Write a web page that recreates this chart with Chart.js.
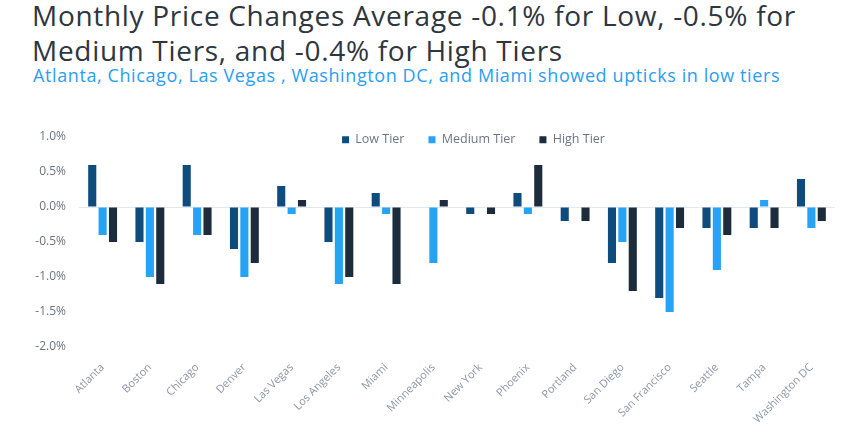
<!DOCTYPE html>
<html>
<head>
<meta charset="utf-8">
<script src="https://cdn.jsdelivr.net/npm/chart.js@4.4.0/dist/chart.umd.min.js"></script>
<style>
  body { margin: 0; background: #fff; font-family: 'Open Sans', sans-serif; }
  #page { position: relative; width: 847px; height: 437px; overflow: hidden; }
  #title { position: absolute; left: 32px; top: -2px; margin: 0; font-weight: 400;
           font-size: 28px; line-height: 35px; letter-spacing: 0.7px; color: #2e3640; white-space: nowrap; }
  #subtitle { position: absolute; left: 33px; top: 65px; margin: 0; font-weight: 400;
              font-size: 18px; line-height: 20px; letter-spacing: 0.6px; color: #2a9ef2; white-space: nowrap; }
  #box { position: absolute; left: 0; top: 95px; width: 847px; height: 342px; }
</style>
</head>
<body>
<div id="page">
  <h1 id="title">Monthly Price Changes Average -0.1% for Low, -0.5% for<br>Medium Tiers, and -0.4% for High Tiers</h1>
  <h2 id="subtitle">Atlanta, Chicago, Las Vegas , Washington DC, and Miami showed upticks in low tiers</h2>
  <div id="box"><canvas id="barChart"></canvas></div>
</div>
<script>
const cities = ['Atlanta', 'Boston', 'Chicago', 'Denver', 'Las Vegas', 'Los Angeles', 'Miami', 'Minneapolis',
                'New York', 'Phoenix', 'Portland', 'San Diego', 'San Francisco', 'Seattle', 'Tampa', 'Washington DC'];
const lowTier    = [0.6, -0.5, 0.6, -0.6, 0.3, -0.5, 0.2, 0.0, -0.1, 0.2, -0.2, -0.8, -1.3, -0.3, -0.3, 0.4];
const mediumTier = [-0.4, -1.0, -0.4, -1.0, -0.1, -1.1, -0.1, -0.8, 0.0, -0.1, 0.0, -0.5, -1.5, -0.9, 0.1, -0.3];
const highTier   = [-0.5, -1.1, -0.4, -0.8, 0.1, -1.0, -1.1, 0.1, -0.1, 0.6, -0.2, -1.2, -0.3, -0.4, -0.3, -0.2];
const yMin = -2.0, yMax = 1.0, yStep = 0.5;

// legend sits inside the plot, level with the top tick
const legendInside = {
    id: 'legendInside',
    beforeInit(chart) {
        const fit = chart.legend.fit;
        chart.legend.fit = function () {
            fit.call(this);
            this.realHeight = this.height;
            this.height = 0;
        };
    },
    afterLayout(chart) {
        const lg = chart.legend;
        const pad = lg.options.labels.padding;
        const top = chart.chartArea.top + 3 - pad - 6.5;
        const dx = 473.5 - (lg.left + lg.right) / 2;
        lg.top = top;
        lg.bottom = top + lg.realHeight + 10;
        lg.left += dx;
        lg.right += dx;
    }
};

const ctx = document.getElementById('barChart').getContext('2d');
const barChart = new Chart(ctx, {
    type: 'bar',
    data: {
        labels: cities,
        datasets: [
            { label: 'Low Tier', data: lowTier, backgroundColor: '#0f4c7e' },
            { label: 'Medium Tier', data: mediumTier, backgroundColor: '#26a3f4' },
            { label: 'High Tier', data: highTier, backgroundColor: '#1c2c3c' }
        ]
    },
    options: {
        responsive: true,
        maintainAspectRatio: false,
        animation: false,
        datasets: { bar: { categoryPercentage: 0.66, barPercentage: 0.78 } },
        layout: { padding: { top: 42, right: 12, left: 0, bottom: 0 } },
        plugins: {
            legend: {
                position: 'top',
                labels: {
                    boxWidth: 7, boxHeight: 7, padding: 24,
                    color: '#6b7685',
                    font: { family: 'Open Sans', size: 12.5 }
                }
            },
            tooltip: { enabled: false }
        },
        scales: {
            x: {
                grid: { display: false },
                border: { display: false },
                ticks: {
                    minRotation: 45, maxRotation: 45, padding: 6,
                    color: '#8c96a5',
                    font: { family: 'Open Sans', size: 11 }
                },
                afterFit(s) { s.height = 90; }
            },
            y: {
                min: yMin, max: yMax,
                border: { display: false },
                grid: {
                    drawTicks: false,
                    color: c => c.tick && c.tick.value === 0 ? '#e3e8ee' : 'transparent'
                },
                ticks: {
                    stepSize: yStep, padding: 13,
                    color: '#6b7480',
                    font: { family: 'Open Sans', size: 12 },
                    callback: v => v.toFixed(1) + '%'
                },
                afterFit(s) { s.width = 79; }
            }
        }
    },
    plugins: [legendInside]
});
</script>
</body>
</html>
